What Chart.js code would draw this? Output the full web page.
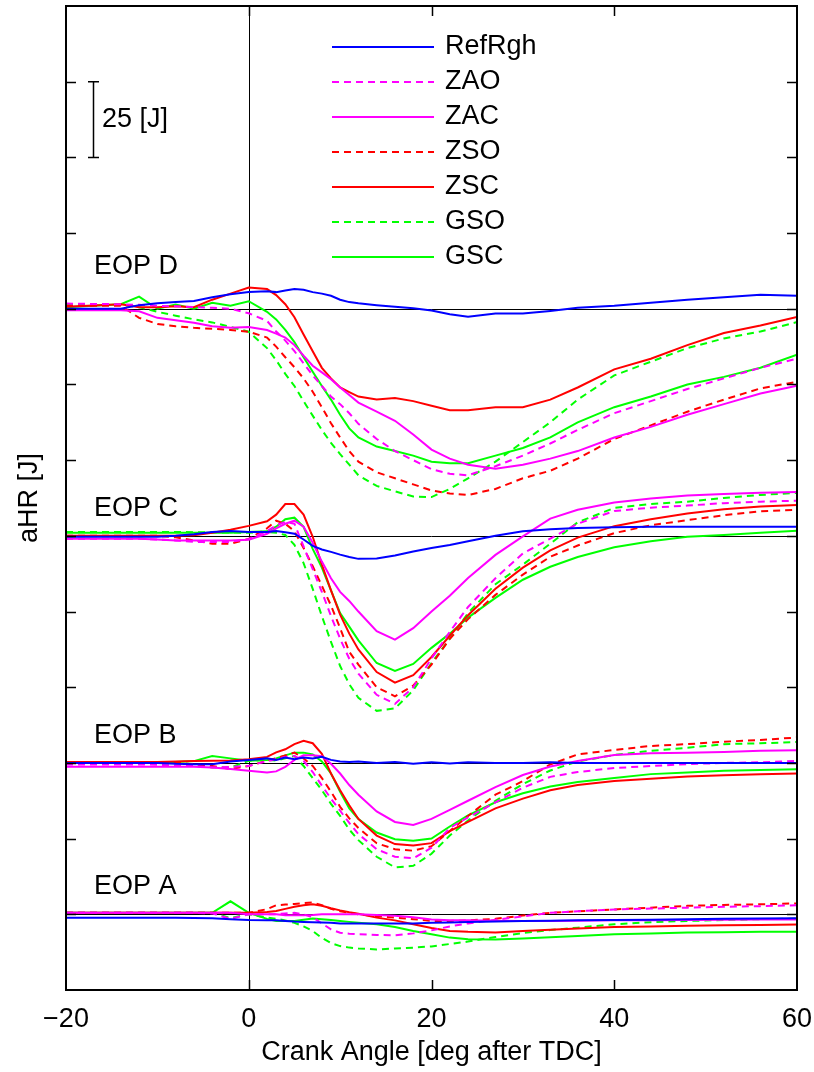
<!DOCTYPE html>
<html>
<head>
<meta charset="utf-8">
<script src="https://cdn.jsdelivr.net/npm/chart.js@4.4.0/dist/chart.umd.min.js"></script>
<style>
    html, body { margin: 0; padding: 0; background: #fff; }
    #chart { display: block; }
</style>
</head>
<body>
<canvas id="chart" width="814" height="1072"></canvas>
<script>
// Crank angle samples (deg after TDC)
const angles = [-20, -14, -12, -10, -8, -6, -4, -2, 0, 2, 3, 4, 5, 6, 7, 8, 9, 10, 11, 12,
    14, 16, 18, 20, 22, 24, 27, 30, 33, 36, 40, 44, 48, 52, 56, 60];

// EOP D (aHR in J, relative to its own zero line)
const refRghD = [0, 0, 1.2, 1.8, 2.2, 2.6, 3.8, 4.8, 5.5, 5.8, 5.5, 6, 6.5, 6.3, 5.5, 5, 4.3, 3, 2.2, 1.8,
    1.2, 0.7, 0.2, -0.6, -1.8, -2.6, -1.6, -1.6, -0.7, 0.3, 1, 2, 3, 3.8, 4.6, 4.3];
const zaoD = [1.7, 1.5, 1.3, 1, 0.8, 0.6, 0.3, 0, -1.5, -4, -7.5, -10.5, -14, -18, -22, -25.5, -29, -31.5, -34.5, -38,
    -43, -47, -50, -53, -54.5, -55, -52, -48.5, -44.5, -40, -34.5, -30.5, -26.5, -23, -19.5, -16.5];
const zacD = [-0.5, -0.5, -0.8, -3, -3.8, -4.6, -5.8, -6.3, -6, -7, -8.2, -9.5, -12, -15.5, -18.8, -21, -23.3, -26, -28.5, -31,
    -34, -37, -41.5, -46.5, -49.5, -51.5, -52.8, -51.5, -49.5, -47, -42.5, -39, -35, -31.5, -28, -25.4];
const zsoD = [1, 1, -3, -5, -5.8, -6.3, -6.6, -7, -7.6, -9.5, -12.5, -16, -19.3, -23, -27.4, -32.5, -37.8, -42.5, -47, -50.5,
    -54, -56, -58, -60, -61, -61.5, -59.5, -56, -53.5, -49.5, -43, -38.5, -34, -30, -26.3, -24.1];
const zscD = [0.7, 1.5, 0.5, 0.5, 0.8, 0.5, 3, 5, 7, 6.5, 4.5, 1.5, -2.8, -8.5, -14, -19.5, -23, -26, -27.5, -29,
    -30, -29.5, -30.5, -32, -33.5, -33.5, -32.5, -32.5, -30, -26, -20, -16.5, -12, -8, -5.5, -2.7];
const gsoD = [1.5, 1.3, 0.5, -1, -2.3, -3.5, -4.5, -6, -7.6, -13, -17, -21.5, -25.5, -30.5, -35.3, -40, -44.3, -48, -51.5, -55,
    -58.5, -60.3, -62, -62.2, -59.5, -56, -50.5, -44, -37.5, -30, -22, -17.5, -13, -9.8, -7.5, -4.4];
const gscD = [0.5, 1.5, 4, 0, 1.4, 0, 2, 1, 2.5, -1, -3.5, -7, -11, -16, -20.8, -25.5, -30, -35, -39.5, -42.5,
    -45.5, -47, -48.5, -50.5, -51, -51, -48.5, -46, -42.5, -37.5, -32.5, -29, -25, -22.5, -19.5, -15.2];

// EOP C
const refRghC = [-0.3, -0.3, -0.3, -0.3, 0, 0.5, 1.3, 1.6, 1.3, 1.3, 1.6, 1.2, 0.7, -1.2, -3.3, -4.5, -5.3, -6.2, -7, -7.6,
    -7.5, -6.5, -5.2, -4, -3, -1.8, 0, 1.5, 2.2, 2.6, 2.8, 3, 3, 3, 3, 3];
const zaoC = [-1, -1, -1, -1.2, -1.5, -2, -2, -2, -1, 1.5, 3.5, 4.6, 4, -3.5, -11, -18.5, -26.5, -34, -40.6, -45.5,
    -52.5, -55.5, -50, -40.5, -31.7, -23.5, -14, -5.8, -0.9, 4, 8.2, 9.3, 10, 10.8, 11.3, 11.6];
const zacC = [-1, -1, -1, -1.2, -1.5, -1.5, -1.5, -1.5, -1.3, 0.7, 2.5, 4, 5, 3, -2.3, -8.5, -14, -18.5, -21.5, -25,
    -31.5, -34.3, -30.5, -25, -19.8, -13.9, -6.3, -0.2, 5.7, 8.6, 11, 12.3, 13.3, 13.8, 14.2, 14.5];
const zsoC = [0, 0, 0, 0, -0.5, -1.5, -2.6, -2.6, -1, 2.5, 5, 4, 1.5, -4, -10, -16.5, -23, -30.5, -38.3, -42.5,
    -50, -53, -49.5, -42.5, -34, -27.5, -19.5, -12.8, -6.9, -3.2, 0.9, 3.5, 5.2, 6.8, 8.1, 8.6];
const zscC = [0, 0, 0, 0, 0, 0.2, 1, 2, 3.3, 4.8, 7, 10.5, 10.5, 7, -0.3, -9.5, -18, -26, -32.3, -37.5,
    -45, -48.5, -46, -40, -33, -26.2, -17.5, -10.5, -4.8, -0.6, 3.2, 5.5, 7.4, 8.8, 9.7, 10.2];
const gsoC = [1.3, 1.3, 1.3, 1.3, 1.3, 1.2, 1.2, 1.1, 1, 1.3, 1, 0.3, -3, -9, -17.5, -26.5, -35, -43, -49, -53.5,
    -57.8, -57, -51, -42, -34, -25.5, -16, -9.5, -2.6, 4.5, 9.2, 10.5, 11.3, 12.5, 13.5, 14.2];
const gscC = [1, 1, 1, 1, 1, 1, 1, 1, 1.3, 1.5, 3, 5.5, 6, 3, -4.3, -10.5, -18, -25.5, -30, -34.5,
    -42, -44.6, -42.3, -37, -32.3, -27, -20.5, -14.5, -10.2, -7, -3.8, -1.8, -0.3, 0.3, 1, 1.7];

// EOP B
const refRghB = [0, 0, 0, 0, -0.3, -0.4, -0.4, 0.5, 1, 1.5, 1, 1.8, 1.2, 1.8, 1.5, 2, 1, 0.5, 0.3, 0.5,
    0, 0.3, -0.3, 0.2, -0.2, 0.2, 0, 0, 0.2, 0, 0, 0, 0, 0, 0, 0];
const zaoB = [-0.5, -0.5, -0.5, -0.6, -0.8, -1, -1.5, -1.3, -1, 0.6, 1.2, 2, 2.3, 0.7, -3, -7.5, -11.8, -15.8, -19.8, -23.5,
    -28.5, -31, -31.5, -28, -21.5, -18, -13, -8.2, -4.6, -3, -1.7, -1, -0.4, 0, 0.2, 0.7];
const zacB = [-1.3, -1.3, -1.3, -1.3, -1.3, -1.3, -1.5, -2, -2.6, -3.2, -2.8, -1.3, 1, 2.5, 2.5, 2.2, -0.3, -3.5, -7.3, -10.5,
    -16, -19.5, -20.5, -18.5, -15.5, -12.5, -8, -4, -1.2, 0.6, 2.6, 3.2, 3.4, 3.6, 4, 4.2];
const zsoB = [0, 0, 0, 0, 0, -0.5, -1, -2, -1, 0.7, 1.5, 2.5, 3.4, 1.5, -1, -5, -9.5, -14.5, -18.3, -21.5,
    -26.5, -28.5, -29, -27.5, -22.5, -17.5, -10.5, -6, -0.5, 2.8, 4.3, 5.6, 6.2, 7, 7.6, 8.4];
const zscB = [0.3, 0.3, 0.3, 0.3, 0.5, 0.6, 0.7, 0.8, 1.2, 2, 3.5, 4.5, 6.2, 7.3, 6.5, 3, -3.5, -9, -14, -18.5,
    -24, -26.8, -27.3, -26.5, -22.5, -19.5, -15, -11.8, -9, -7.3, -6, -5.2, -4.5, -4.1, -3.7, -3.5];
const gsoB = [0, 0, 0, 0, 0, -0.5, -1.5, -1.5, 0.7, 1, 0.8, 1.5, 2.3, -1, -5, -9, -13.5, -17.5, -22, -25.5,
    -31, -34.5, -34, -30, -24, -19, -12.5, -7, -2.5, 0.5, 2.6, 4, 5, 6.2, 6.5, 6.9];
const gscB = [0.3, 0.3, 0.3, 0.3, 0.3, 0.6, 2.3, 1.5, 0.7, 1, 1.5, 2.5, 3.4, 3.4, 2.8, 0.5, -3.5, -9.5, -15, -18.5,
    -23, -25.2, -25.7, -25, -21, -17.3, -13, -10, -7.8, -6.3, -5, -3.7, -3.2, -2.6, -2.3, -2.1];

// EOP A
const refRghA = [-1.1, -1.1, -1.1, -1.1, -1.1, -1.2, -1.3, -1.6, -1.9, -2, -2, -2.2, -2.4, -2.5, -2.6, -2.7, -2.8, -3, -3, -3,
    -3, -3, -3, -2.8, -2.7, -2.5, -2.4, -2.2, -2.1, -2, -1.9, -1.8, -1.6, -1.5, -1.4, -1.3];
const zaoA = [0.5, 0.5, 0.5, 0.5, 0.5, 0.5, 0.3, -1.5, 0, 0, 0, 0.3, 0.5, 0, -1, -3, -5, -6.1, -6.4, -6.6,
    -6.8, -6.9, -6.3, -5.3, -4, -3, -1.8, -0.7, 0.5, 1, 1.6, 1.9, 2.2, 2.5, 2.7, 3];
const zacA = [0.5, 0.5, 0.5, 0.5, 0.5, 0.5, 0.5, 0.5, 0, 0, 0, -0.3, -0.3, -0.3, -0.2, 0, 0, 0, 0, 0,
    -0.2, -0.5, -1, -1.7, -2, -2, -2.1, -2.2, -2.2, -2.1, -2, -2, -1.9, -1.8, -1.7, -1.7];
const zsoA = [0.5, 0.5, 0.5, 0.5, 0.5, 0.5, 0.5, 0.5, 0.5, 1.7, 3, 3.2, 3.4, 3.7, 3.9, 3, 1.8, 1, 0.5, 0,
    -0.6, -1.1, -1.6, -2.2, -2.2, -2, -1.5, -0.4, 0.5, 1, 1.6, 2.2, 2.8, 3.1, 3.3, 3.6];
const zscA = [0.5, 0.5, 0.5, 0.5, 0.5, 0.5, 0.5, 0.5, 0.5, 0.8, 1.1, 1.8, 2.5, 3, 3.3, 2.8, 2, 1.3, 0.7, 0.2,
    -1.1, -2, -3.3, -4.5, -5.5, -5.8, -6, -5.5, -5.1, -4.7, -4.2, -4, -3.8, -3.6, -3.5, -3.4];
const gsoA = [0.5, 0.5, 0.5, 0.5, 0.5, 0.5, 0.5, -1.2, 0, -1.1, -1.5, -2, -2.8, -4, -5.5, -7.8, -9.5, -10.5, -11, -11.3,
    -11.6, -11.3, -11, -10.6, -9.8, -9, -7.5, -6.2, -5.2, -4.4, -3.3, -2.6, -2.2, -1.9, -1.6, -1.4];
const gscA = [0.5, 0.5, 0.5, 0.5, 0.5, 0.5, 0.5, 4.3, 0.5, -1.5, -2.2, -2.2, -2.2, -1.8, -1.4, -1.6, -1.9, -2.2, -2.5, -2.8,
    -3.3, -4.2, -5.5, -6.6, -7.7, -8.2, -8.3, -8, -7.6, -7.2, -6.6, -6.3, -6, -5.9, -5.8, -5.8];

// Groups are stacked with an offset (J) on a shared axis
const eopNames = ['EOP D', 'EOP C', 'EOP B', 'EOP A'];
const eopOffsets = [225, 150, 75, 25];
const groupSeries = [
    [refRghD, zaoD, zacD, zsoD, zscD, gsoD, gscD],
    [refRghC, zaoC, zacC, zsoC, zscC, gsoC, gscC],
    [refRghB, zaoB, zacB, zsoB, zscB, gsoB, gscB],
    [refRghA, zaoA, zacA, zsoA, zscA, gsoA, gscA]
];

const seriesNames = ['RefRgh', 'ZAO', 'ZAC', 'ZSO', 'ZSC', 'GSO', 'GSC'];
const seriesColors = ['#0000ff', '#ff00ff', '#ff00ff', '#ff0000', '#ff0000', '#00ff00', '#00ff00'];
const seriesDashes = [[], [7, 5], [], [7, 5], [], [7, 5], []];

const FONT = '"Liberation Sans", Arial, Helvetica, sans-serif';
const FONT_SIZE = 27;

const datasets = [];
groupSeries.forEach(function(series, g) {
    series.forEach(function(vals, s) {
        datasets.push({
            label: seriesNames[s] + ' ' + eopNames[g],
            data: vals.map(function(v, i) { return { x: angles[i], y: v + eopOffsets[g] }; }),
            borderColor: seriesColors[s],
            borderDash: seriesDashes[s],
            borderWidth: 2,
            pointRadius: 0,
            fill: false,
            tension: 0
        });
    });
});

// Zero lines, box, inward ticks, group labels, scale bar and legend
const annotations = {
    id: 'annotations',
    beforeDatasetsDraw(chart) {
        const { ctx, chartArea: a, scales: { x, y } } = chart;
        ctx.save();
        ctx.strokeStyle = '#000';
        ctx.lineWidth = 1;
        ctx.beginPath();
        eopOffsets.forEach(function(o) {
            const py = Math.round(y.getPixelForValue(o)) + 0.5;
            ctx.moveTo(a.left, py);
            ctx.lineTo(a.right, py);
        });
        const px0 = Math.round(x.getPixelForValue(0)) + 0.5;
        ctx.moveTo(px0, a.top);
        ctx.lineTo(px0, a.bottom);
        ctx.stroke();
        ctx.restore();
    },
    afterDatasetsDraw(chart) {
        const { ctx, chartArea: a, scales: { x, y } } = chart;
        ctx.save();
        ctx.strokeStyle = '#000';
        ctx.fillStyle = '#000';

        // inward ticks
        ctx.lineWidth = 1.5;
        ctx.beginPath();
        y.ticks.forEach(function(t) {
            if (t.value <= y.min || t.value >= y.max) return;
            const py = Math.round(y.getPixelForValue(t.value)) + 0.5;
            ctx.moveTo(a.left, py); ctx.lineTo(a.left + 10, py);
            ctx.moveTo(a.right, py); ctx.lineTo(a.right - 10, py);
        });
        x.ticks.forEach(function(t) {
            if (t.value <= x.min || t.value >= x.max) return;
            const px = Math.round(x.getPixelForValue(t.value)) + 0.5;
            ctx.moveTo(px, a.bottom); ctx.lineTo(px, a.bottom - 10);
            ctx.moveTo(px, a.top); ctx.lineTo(px, a.top + 10);
        });
        ctx.stroke();

        // box
        ctx.lineWidth = 2;
        ctx.strokeRect(a.left, a.top, a.right - a.left, a.bottom - a.top);

        // group labels
        ctx.font = FONT_SIZE + 'px ' + FONT;
        ctx.textAlign = 'left';
        ctx.textBaseline = 'alphabetic';
        const labelRise = [35, 20, 20, 20];
        eopNames.forEach(function(name, g) {
            ctx.fillText(name, 94, y.getPixelForValue(eopOffsets[g]) - labelRise[g]);
        });

        // 25 J scale bar
        const barTop = y.getPixelForValue(300);
        const barBot = y.getPixelForValue(275);
        ctx.lineWidth = 1.5;
        ctx.beginPath();
        ctx.moveTo(93.5, barTop); ctx.lineTo(93.5, barBot);
        ctx.moveTo(88, barTop); ctx.lineTo(99, barTop);
        ctx.moveTo(88, barBot); ctx.lineTo(99, barBot);
        ctx.stroke();
        ctx.textBaseline = 'middle';
        ctx.fillText('25 [J]', 102, (barTop + barBot) / 2);

        // legend
        seriesNames.forEach(function(name, s) {
            const ly = 47 + s * 35;
            ctx.strokeStyle = seriesColors[s];
            ctx.lineWidth = 2;
            ctx.setLineDash(seriesDashes[s]);
            ctx.beginPath();
            ctx.moveTo(332, ly);
            ctx.lineTo(434, ly);
            ctx.stroke();
            ctx.setLineDash([]);
            ctx.fillStyle = '#000';
            ctx.fillText(name, 445, ly);
        });
        ctx.restore();
    }
};

new Chart(document.getElementById('chart').getContext('2d'), {
    type: 'line',
    data: { datasets: datasets },
    options: {
        responsive: false,
        animation: false,
        devicePixelRatio: 1,
        layout: { padding: { top: 6, right: 17, bottom: 0, left: 0 } },
        plugins: {
            legend: { display: false },
            tooltip: { enabled: false }
        },
        scales: {
            x: {
                type: 'linear',
                min: -20,
                max: 60,
                grid: { display: false },
                border: { display: false },
                ticks: {
                    stepSize: 20,
                    padding: 5,
                    color: '#000',
                    font: { family: FONT, size: FONT_SIZE },
                    maxRotation: 0,
                    callback: function(v) { return v < 0 ? '\u2212' + Math.abs(v) : String(v); }
                },
                title: {
                    display: true,
                    text: 'Crank Angle [deg after TDC]',
                    color: '#000',
                    font: { family: FONT, size: FONT_SIZE },
                    padding: { top: 0, bottom: 3 }
                },
                afterFit: function(scale) {
                    scale.height = 82;
                    scale.paddingLeft = 0;
                    scale.paddingRight = 0;
                }
            },
            y: {
                type: 'linear',
                min: 0,
                max: 325,
                grid: { display: false },
                border: { display: false },
                ticks: { stepSize: 25, display: false },
                title: {
                    display: true,
                    text: 'aHR [J]',
                    color: '#000',
                    font: { family: FONT, size: FONT_SIZE },
                    padding: { top: 13, bottom: 0 }
                },
                afterFit: function(scale) {
                    scale.width = 66;
                }
            }
        }
    },
    plugins: [annotations]
});
</script>
</body>
</html>
